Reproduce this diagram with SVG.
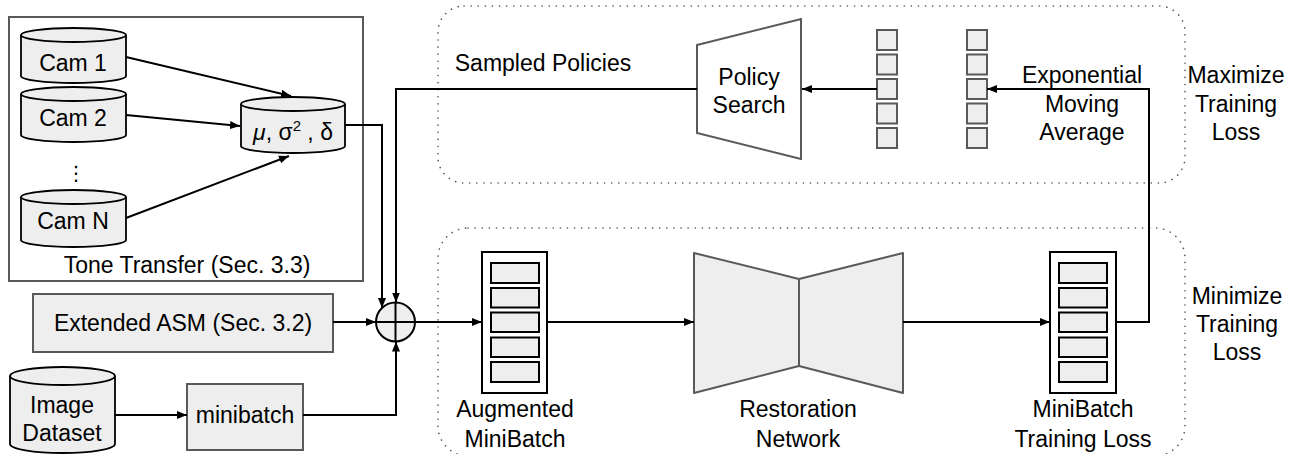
<svg xmlns="http://www.w3.org/2000/svg" width="1290" height="454" viewBox="0 0 1290 454">
  <defs>
    <marker id="arrow" viewBox="0 0 10 10" refX="10" refY="5" markerWidth="10" markerHeight="10" markerUnits="userSpaceOnUse" orient="auto">
      <path d="M0,1 L10,5 L0,9 z" fill="#000"/>
    </marker>
    <style>
      text { font-family: "Liberation Sans", Arial, sans-serif; font-size: 23px; fill: #000; text-anchor: middle; }
      .cyl { fill: #eeeeee; stroke: #000; stroke-width: 1.8; }
      .box { fill: #eeeeee; stroke: #595959; stroke-width: 2; }
      .frame { fill: none; stroke: #595959; stroke-width: 2; }
      .stack { fill: #fff; stroke: #000; stroke-width: 2; }
      .cell { fill: #eeeeee; stroke: #000; stroke-width: 2; }
      .sq { fill: #eeeeee; stroke: #595959; stroke-width: 2; }
      .zone { fill: none; stroke: #555; stroke-width: 1.6; stroke-dasharray: 0.1 7; stroke-linecap: round; }
      .wire { fill: none; stroke: #000; stroke-width: 2; }
      .arr { marker-end: url(#arrow); }
    </style>
  </defs>

  <!-- dotted phase regions -->
  <g id="regions">
    <rect class="zone" x="438" y="6" width="747" height="177" rx="26" ry="26"/>
    <rect class="zone" x="438" y="228" width="747" height="228" rx="30" ry="30"/>
  </g>

  <!-- tone transfer -->
  <g id="tone-transfer">
    <rect class="frame" x="9" y="17" width="354" height="264"/>
    <text x="187" y="273">Tone Transfer (Sec. 3.3)</text>
  </g>
  <g id="cam1">
    <path class="cyl" d="M21,35 a52.5,7 0 0 1 105,0 v41 a52.5,7 0 0 1 -105,0 z"/>
    <path class="cyl" d="M21,35 a52.5,7 0 0 0 105,0"/>
    <text x="73" y="71">Cam 1</text>
  </g>
  <g id="cam2">
    <path class="cyl" d="M21,94 a52.5,7 0 0 1 105,0 v41 a52.5,7 0 0 1 -105,0 z"/>
    <path class="cyl" d="M21,94 a52.5,7 0 0 0 105,0"/>
    <text x="73" y="126">Cam 2</text>
  </g>
  <g id="cam-dots">
    <text x="76" y="180" style="font-family: 'DejaVu Sans', sans-serif; font-size: 20px;">⋮</text>
  </g>
  <g id="camN">
    <path class="cyl" d="M21,197 a52.5,7 0 0 1 105,0 v43 a52.5,7 0 0 1 -105,0 z"/>
    <path class="cyl" d="M21,197 a52.5,7 0 0 0 105,0"/>
    <text x="73" y="229">Cam N</text>
  </g>
  <g id="stats">
    <path class="cyl" d="M241,104 a52,7 0 0 1 104,0 v42 a52,7 0 0 1 -104,0 z"/>
    <path class="cyl" d="M241,104 a52,7 0 0 0 104,0"/>
    <text x="293" y="140"><tspan font-style="italic">μ</tspan>, σ<tspan font-size="15" dy="-9">2</tspan><tspan dy="9"> , δ</tspan></text>
  </g>

  <!-- left inputs -->
  <g id="asm">
    <rect class="box" x="33" y="294" width="300" height="58"/>
    <text x="183" y="331">Extended ASM (Sec. 3.2)</text>
  </g>
  <g id="dataset">
    <path class="cyl" d="M10,376 a52.5,9 0 0 1 105,0 v68 a52.5,9 0 0 1 -105,0 z"/>
    <path class="cyl" d="M10,376 a52.5,9 0 0 0 105,0"/>
    <text x="62" y="413">Image</text>
    <text x="62" y="441">Dataset</text>
  </g>
  <g id="minibatch">
    <rect class="box" x="187" y="384" width="116" height="66"/>
    <text x="245" y="423">minibatch</text>
  </g>
  <g id="sum">
    <circle cx="395.5" cy="322" r="19.5" fill="#eeeeee" stroke="#000" stroke-width="2"/>
    <path class="wire" d="M376,322 H415 M395.5,302.5 V341.5"/>
  </g>

  <!-- policy search loop -->
  <g id="policy-search">
    <path d="M697,45 L801,19 L801,159 L697,133 z" fill="#fff" stroke="#595959" stroke-width="2"/>
    <text x="749" y="85">Policy</text>
    <text x="749" y="113">Search</text>
  </g>
  <g id="policy-weights">
    <rect class="sq" x="877" y="30" width="20" height="20"/>
    <rect class="sq" x="877" y="54.5" width="20" height="20"/>
    <rect class="sq" x="877" y="79" width="20" height="20"/>
    <rect class="sq" x="877" y="103.5" width="20" height="20"/>
    <rect class="sq" x="877" y="128" width="20" height="20"/>
  </g>
  <g id="ema-weights">
    <rect class="sq" x="967" y="30" width="20" height="20"/>
    <rect class="sq" x="967" y="54.5" width="20" height="20"/>
    <rect class="sq" x="967" y="79" width="20" height="20"/>
    <rect class="sq" x="967" y="103.5" width="20" height="20"/>
    <rect class="sq" x="967" y="128" width="20" height="20"/>
  </g>

  <!-- training path -->
  <g id="augmented-minibatch">
    <rect class="stack" x="482" y="252" width="65" height="141"/>
    <rect class="cell" x="491" y="263" width="48" height="20"/>
    <rect class="cell" x="491" y="288" width="48" height="19.5"/>
    <rect class="cell" x="491" y="312.5" width="48" height="19.5"/>
    <rect class="cell" x="491" y="337.5" width="48" height="19.5"/>
    <rect class="cell" x="491" y="362" width="48" height="20"/>
    <text x="515" y="417">Augmented</text>
    <text x="515" y="447">MiniBatch</text>
  </g>
  <g id="restoration-network">
    <path d="M694,253 L799,279 L799,366 L694,393 z" fill="#eeeeee" stroke="#595959" stroke-width="2" stroke-linejoin="round"/>
    <path d="M799,279 L903,253 L903,393 L799,366 z" fill="#eeeeee" stroke="#595959" stroke-width="2" stroke-linejoin="round"/>
    <text x="798" y="417">Restoration</text>
    <text x="798" y="447">Network</text>
  </g>
  <g id="minibatch-loss">
    <rect class="stack" x="1050" y="252" width="66" height="141"/>
    <rect class="cell" x="1059" y="263" width="48" height="20"/>
    <rect class="cell" x="1059" y="288" width="48" height="19.5"/>
    <rect class="cell" x="1059" y="312.5" width="48" height="19.5"/>
    <rect class="cell" x="1059" y="337.5" width="48" height="19.5"/>
    <rect class="cell" x="1059" y="362" width="48" height="20"/>
    <text x="1083" y="417">MiniBatch</text>
    <text x="1083" y="447">Training Loss</text>
  </g>

  <!-- labels -->
  <g id="labels">
    <text x="543" y="71">Sampled Policies</text>
    <text x="1082" y="83">Exponential</text>
    <text x="1082" y="112">Moving</text>
    <text x="1082" y="140">Average</text>
    <text x="1236" y="83">Maximize</text>
    <text x="1236" y="112">Training</text>
    <text x="1236" y="140">Loss</text>
    <text x="1237" y="304">Minimize</text>
    <text x="1237" y="332">Training</text>
    <text x="1237" y="360">Loss</text>
  </g>

  <!-- connectors -->
  <g id="connectors">
    <path class="wire arr" d="M126,57 L291,96"/>
    <path class="wire arr" d="M126,115 L240,126"/>
    <path class="wire arr" d="M126,218 L289,156"/>
    <path class="wire arr" d="M345,125 H382 V308"/>
    <path class="wire arr" d="M697,89 H396 V302.5"/>
    <path class="wire arr" d="M333,322 H376"/>
    <path class="wire arr" d="M115,415 H187"/>
    <path class="wire arr" d="M303,415 H396 V341.5"/>
    <path class="wire arr" d="M415,322 H482"/>
    <path class="wire arr" d="M547,322 H694"/>
    <path class="wire arr" d="M903,322 H1050"/>
    <path class="wire arr" d="M1116,322 H1149 V89 H987"/>
    <path class="wire arr" d="M877,89 H802"/>
  </g>
</svg>
